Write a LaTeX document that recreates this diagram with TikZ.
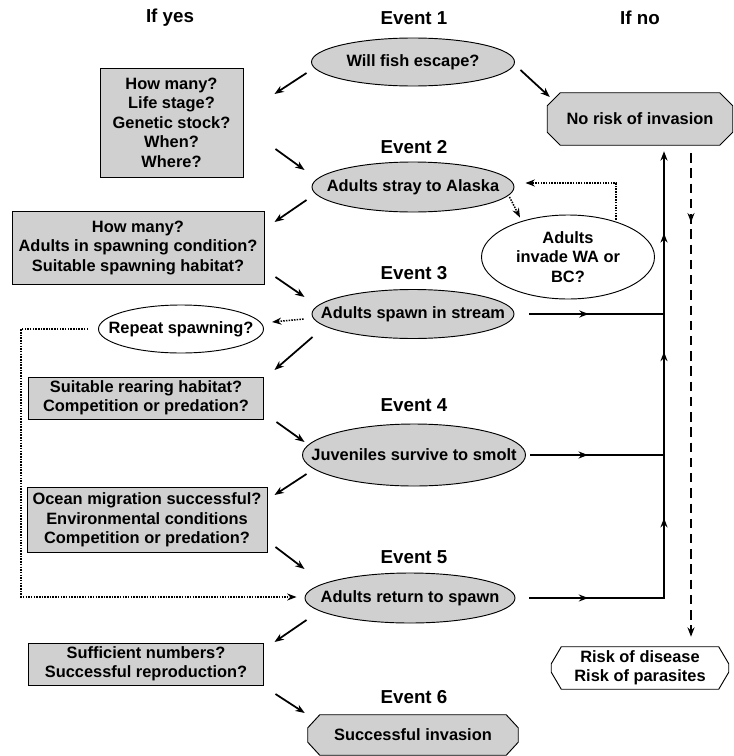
\documentclass[tikz,border=0pt]{standalone}
\usepackage{fontspec}
\setmainfont{Liberation Sans}
\usepackage{tikz}
\usetikzlibrary{shapes.geometric, arrows.meta, calc, decorations.markings, backgrounds}
\usepackage{xcolor}
\definecolor{boxgray}{HTML}{D0D0D0}
\newcommand\qfont{\fontsize{14}{16.6}\selectfont\bfseries}
\newcommand\hfont{\fontsize{16}{18}\selectfont\bfseries}
% octagon behind a node: name, fill, cut in x, cut in y
\newcommand\octbox[4]{%
  \draw[line width=0.8pt, fill=#2]
    ($(#1.north west)+(#3,0)$) -- ($(#1.north east)+(-#3,0)$) -- ($(#1.north east)+(0,#4)$)
    -- ($(#1.south east)+(0,-#4)$) -- ($(#1.south east)+(-#3,0)$) -- ($(#1.south west)+(#3,0)$)
    -- ($(#1.south west)+(0,-#4)$) -- ($(#1.north west)+(0,#4)$) -- cycle;}

\begin{document}
\begin{tikzpicture}[x=0.03cm, y=-0.03cm,
  >={Stealth[length=8pt, width=6pt]},
  flat/.style={execute at begin node={\hbox to 0pt\bgroup\hss},
    execute at end node={\hss\egroup}},
  quest/.style={rectangle, draw, fill=boxgray, line width=0.8pt, align=center,
    font=\qfont, inner sep=0pt},
  event/.style={ellipse, draw, fill=boxgray, line width=0.8pt, font=\qfont,
    inner sep=0pt, flat},
  option/.style={ellipse, draw, fill=white, line width=0.8pt, font=\qfont,
    inner sep=0pt},
  result/.style={rectangle, font=\qfont, align=center, inner sep=0pt},
  heading/.style={font=\hfont},
  arr/.style={->, line width=1.5pt},
  wire/.style={line width=1.5pt},
  dotline/.style={line width=1.3pt, dash pattern=on 1.3pt off 1pt},
  dashline/.style={line width=1.5pt, dash pattern=on 8pt off 5pt},
  mid/.style={postaction={decorate}, decoration={markings,
    mark=at position #1 with {\arrow{>}}}},
]
  \useasboundingbox (0,0) rectangle (734,756);

  \node[heading] (yes) at (170,18) {If yes};
  \node[heading] (ev1) at (414,18) {Event 1};
  \node[heading] (no) at (640,18) {If no};

  \node[event, minimum width=6.09cm, minimum height=1.44cm] (e1) at (413,62) {Will fish escape?};
  \node[result, minimum width=5.55cm, minimum height=1.56cm] (norisk) at (640,119) {No risk of invasion};
  \node[quest, minimum width=4.29cm, minimum height=3.27cm] (q1) at (171.5,122.5)
    {How many?\\Life stage?\\Genetic stock?\\When?\\Where?};

  \node[heading] (ev2) at (414,147) {Event 2};
  \node[event, minimum width=6.06cm, minimum height=1.5cm] (e2) at (413,187) {Adults stray to Alaska};
  \node[option, align=center, minimum width=5.19cm, minimum height=2.52cm] (invade) at (568,257)
    {Adults\\invade WA or\\BC?};
  \node[quest, minimum width=7.56cm, minimum height=2.19cm] (q2) at (138,248)
    {How many?\\Adults in spawning condition?\\Suitable spawning habitat?};

  \node[heading] (ev3) at (414,273) {Event 3};
  \node[event, minimum width=6.06cm, minimum height=1.47cm] (e3) at (413,314) {Adults spawn in stream};
  \node[option, flat, minimum width=4.95cm, minimum height=1.44cm] (repeat) at (181,329) {Repeat spawning?};
  \node[quest, minimum width=7.05cm, minimum height=1.26cm] (q3) at (146,398)
    {Suitable rearing habitat?\\Competition or predation?};

  \node[heading] (ev4) at (414,405) {Event 4};
  \node[event, minimum width=6.69cm, minimum height=1.86cm] (e4) at (414,455) {Juveniles survive to smolt};
  \node[quest, minimum width=7.2cm, minimum height=1.95cm] (q4) at (147,520)
    {Ocean migration successful?\\Environmental conditions\\Competition or predation?};

  \node[heading] (ev5) at (414,557) {Event 5};
  \node[event, minimum width=6.3cm, minimum height=1.5cm] (e5) at (410,598) {Adults return to spawn};
  \node[quest, minimum width=7.05cm, minimum height=1.26cm] (q5) at (146,664)
    {Sufficient numbers?\\Successful reproduction?};
  \node[result, minimum width=5.31cm, minimum height=1.26cm] (disease) at (640,668)
    {Risk of disease\\Risk of parasites};

  \node[heading] (ev6) at (414,697) {Event 6};
  \node[result, minimum width=6.3cm, minimum height=1.2cm] (success) at (413,735) {Successful invasion};

  \begin{pgfonlayer}{background}
    \octbox{norisk}{boxgray}{13}{13}
    \octbox{disease}{white}{10}{17}
    \octbox{success}{boxgray}{12}{13}
  \end{pgfonlayer}

  \draw[arr] ($(e1.west)+(-4.5,11)$) -- ($(q1.east)+(31,-28.5)$);
  \draw[arr] ($(q1.east)+(32,26.5)$) -- ($(e2.west)+(-7,-17)$);
  \draw[arr] ($(e1.east)+(5.5,8)$) -- ($(norisk.west)+(2.5,-22)$);
  \draw[arr] ($(e2.west)+(-5,13)$) -- ($(q2.east)+(10,-26)$);
  \draw[arr] ($(q2.east)+(11,29)$) -- ($(e3.west)+(-7,-17)$);
  \draw[arr] ($(e3.west)+(1,23)$) -- ($(q3.east)+(10.5,-28)$);
  \draw[arr] ($(q3.east)+(12.5,24)$) -- ($(e4.west)+(2.5,-13)$);
  \draw[arr] ($(e4.west)+(4.5,19)$) -- ($(q4.east)+(7,-25)$);
  \draw[arr] ($(q4.east)+(8,27)$) -- ($(e5.west)+(0,-29)$);
  \draw[arr] ($(e5.west)+(2,22)$) -- ($(q5.east)+(10.5,-22)$);
  \draw[arr] ($(q5.east)+(11.5,30)$) -- ($(success.west)+(-3,-22)$);

  \draw[dotline, ->] ($(e2.east)+(-5,10)$) -- ($(invade.north)+(-48,3)$);
  \draw[dotline, ->] ($(invade.north)+(48,5)$) |- ($(e2.east)+(11,-4)$);
  \draw[dotline, ->] ($(e3.west)+(-8,5)$) -- ($(repeat.east)+(8,-7)$);
  \draw[dotline, ->] ($(repeat.west)+(-10,0)$) -- ++(-67,0) |- ($(e5.west)+(-8,-1)$);

  \coordinate (trunk) at ($(norisk.south)+(24,6)$);
  \draw[wire, ->, postaction={decorate}, decoration={markings,
      mark=at position 0.101 with {\arrow{>}},
      mark=at position 0.369 with {\arrow{>}},
      mark=at position 0.655 with {\arrow{>}},
      mark=at position 0.859 with {\arrow{>}}}]
    ($(e5.east)+(14,0)$) -| (trunk);
  \draw[wire, mid=0.44] ($(e3.east)+(15,0)$) -- (e3.east -| trunk);
  \draw[wire, mid=0.43] ($(e4.east)+(4.5,0)$) -- (e4.east -| trunk);
  \draw[dashline, ->, mid=0.143] ($(norisk.south)+(51,8)$) -- ($(disease.north)+(51,-10)$);
\end{tikzpicture}
\end{document}
